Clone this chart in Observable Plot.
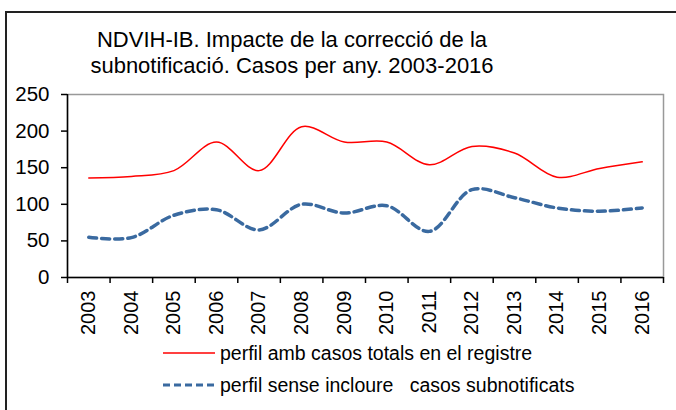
<!DOCTYPE html>
<html><head><meta charset="utf-8">
<script src="https://cdn.jsdelivr.net/npm/d3@7"></script>
<script src="https://cdn.jsdelivr.net/npm/@observablehq/plot@0.6"></script>
<style>
html,body{margin:0;padding:0;background:#fff;}
#wrap{position:relative;width:676px;height:410px;overflow:hidden;font-family:"Liberation Sans",Arial,sans-serif;}
#frame{position:absolute;left:5px;top:11px;width:700px;height:420px;border:2px solid #222;box-sizing:border-box;}
#title{position:absolute;left:0;width:584px;top:27px;text-align:center;font-size:22px;line-height:26px;color:#000;}
.leg{position:absolute;left:163px;font-size:19.5px;line-height:22px;color:#000;display:flex;align-items:center;}
.leg svg{margin-right:5px;}
#chart{position:absolute;left:0;top:0;}
</style></head>
<body><div id="wrap"><div id="frame"></div><div id="chart"></div>
<div id="title">NDVIH-IB. Impacte de la correcció de la<br>subnotificació. Casos per any. 2003-2016</div>
<div class="leg" style="top:342px"><svg width="52" height="6"><line x1="0" x2="52" y1="3" y2="3" stroke="#ff0000" stroke-width="1.5"/></svg>perfil amb casos totals en el registre</div>
<div class="leg" style="top:374px"><svg width="52" height="6"><line x1="0" x2="52" y1="3" y2="3" stroke="#3a6aa0" stroke-width="3" stroke-dasharray="7,4"/></svg>perfil sense incloure&nbsp;&nbsp; casos subnotificats</div>
</div>
<script>
const years = [2003,2004,2005,2006,2007,2008,2009,2010,2011,2012,2013,2014,2015,2016];
const totals = [136,138,146,185,146,206,185,185,154,179,170,137,149,158];
const withoutSub = [55,54.5,85,92.5,65,100,88,98,63,120,109,95,90.5,95];
const yTicks = [0,50,100,150,200,250];
const boundaries = d3.range(years[0]-0.5, years[years.length-1]+1, 1);

const red = years.map((y,i)=>({year:y, value:totals[i]}));
const blue = years.map((y,i)=>({year:y, value:withoutSub[i]}));

const chart = Plot.plot({
  width:676, height:410,
  marginTop:94, marginLeft:67, marginRight:13, marginBottom:133,
  style:{fontFamily:"'Liberation Sans', Arial, sans-serif", background:"transparent", color:"#000"},
  x:{domain:[years[0]-0.5, years[years.length-1]+0.5]},
  y:{domain:[0,250]},
  marks:[
    Plot.frame({stroke:"#999", strokeWidth:1.5}),
    Plot.axisY(yTicks, {tickSize:6, tickPadding:12, fontSize:20.5, strokeWidth:1.5, label:null, stroke:"#000"}),
    Plot.axisX(boundaries, {tickSize:6, text:null, strokeWidth:1.5, label:null}),
    Plot.axisX(years, {tickSize:0, tickRotate:-90, tickPadding:13, fontSize:20, tickFormat:d=>String(d), label:null}),
    Plot.ruleX([years[0]-0.5], {stroke:"#000", strokeWidth:1.5}),
    Plot.ruleY([0], {stroke:"#000", strokeWidth:1.5}),
    Plot.line(red, {x:"year", y:"value", stroke:"#ff0000", strokeWidth:1.5, curve:"catmull-rom"}),
    Plot.line(blue, {x:"year", y:"value", stroke:"#3a6aa0", strokeWidth:3.5, strokeDasharray:"8,5", curve:"catmull-rom"})
  ]
});
document.getElementById("chart").appendChild(chart);
</script></body></html>
